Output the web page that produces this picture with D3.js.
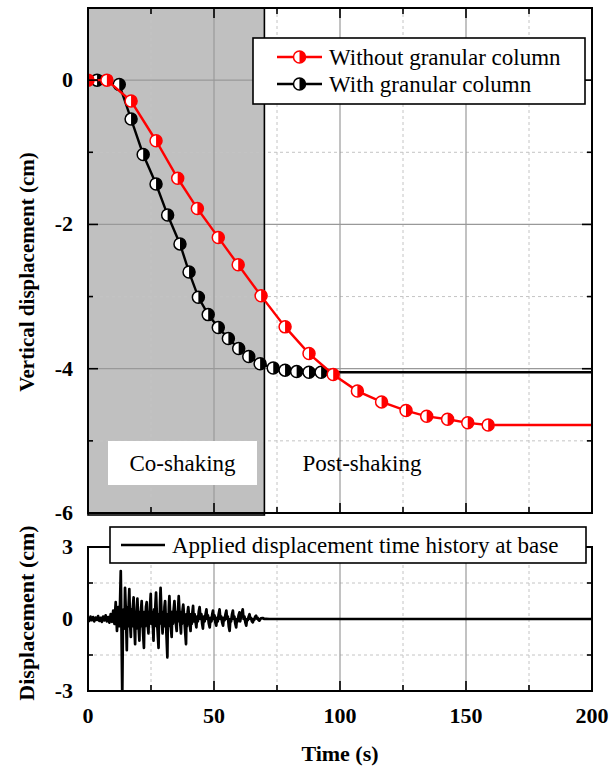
<!DOCTYPE html>
<html><head><meta charset="utf-8">
<script src="https://cdn.jsdelivr.net/npm/d3@7"></script>
<style>body{margin:0;background:#fff}svg{display:block}text{font-family:"Liberation Serif","Times New Roman",serif}</style>
</head><body>
<svg id="c" width="612" height="774"></svg>
<script>
// ---- data ----
const withoutColumn = [[0,0],[7.5,0],[17.1,-0.29],[27.0,-0.84],[35.6,-1.36],[43.4,-1.78],[51.7,-2.18],[59.6,-2.56],[68.7,-2.99],[78.2,-3.42],[87.7,-3.79],[97.3,-4.08],[106.9,-4.31],[116.5,-4.46],[126.2,-4.58],[134.4,-4.66],[142.7,-4.70],[150.7,-4.75],[158.8,-4.78]];
const withoutColumnEnd = [200,-4.78];
const withColumn = [[3.6,0],[12.4,-0.06],[17.1,-0.54],[21.9,-1.03],[27.0,-1.44],[31.6,-1.87],[36.5,-2.27],[40.1,-2.66],[43.8,-3.01],[47.7,-3.25],[51.7,-3.43],[55.7,-3.58],[59.8,-3.72],[63.8,-3.83],[68.3,-3.93],[73.5,-3.99],[78.2,-4.02],[82.8,-4.04],[87.7,-4.05],[92.5,-4.05]];
const withColumnEnd = [200,-4.05];
const baseMotion = [[0,0.05],[0.5,-0.08],[1,0.1],[1.5,-0.05],[2,0.08],[2.5,-0.1],[3,0.06],[3.5,-0.04],[4,0.12],[4.5,-0.08],[5,0.05],[5.5,-0.12],[6,0.1],[6.5,-0.06],[7,0.15],[7.5,-0.1],[8,0.08],[8.5,-0.15],[9,0.2],[9.5,-0.12],[10,0.35],[10.5,-0.2],[11,0.7],[11.5,-0.5],[12,0.5],[12.5,-0.3],
[13,2.0],[13.3,-0.5],[13.6,-3.2],[13.9,0.2],[14.2,0.4],[14.45,-0.4],[14.7,1.3],[15.05,0.2],[15.4,-1.3],[15.65,0.5],[15.9,-0.3],[16.15,0.6],[16.4,1.25],[16.7,-0.2],[17,-0.75],[17.25,0.4],[17.5,-0.3],[17.8,0.5],[18.1,0.9],[18.4,-0.3],[18.7,-1.05],[18.9,0.3],[19.1,-0.4],[19.35,0.4],[19.6,0.85],[20,-0.2],[20.4,-0.9],[20.6,0.3],[20.8,-0.3],[21.05,0.4],[21.3,0.75],[21.75,-0.4],[22.2,-1.2],[22.45,0.3],[22.7,-0.3],[23,0.5],[23.3,0.7],[23.65,-0.2],[24,-0.6],[24.2,0.3],[24.4,-0.2],[24.65,0.6],[24.9,1.05],[25.2,-0.2],[25.5,0.3],[26,-0.9],[26.25,0.4],[26.5,-0.3],[26.75,0.6],[27,1.1],[27.5,-0.3],[28,-1.2],[28.2,0.2],[28.4,-0.2],[28.6,0.7],[28.8,1.3],[29.2,0.1],[29.6,-0.6],[29.85,0.3],[30.1,-0.3],[30.35,0.5],[30.6,0.75],[31,-0.3],[31.5,-1.6],[31.7,0.2],[31.9,-0.3],[32.1,0.5],[32.3,0.95],[32.75,-0.2],[33.2,-0.75],[33.45,0.3],[33.7,-0.2],[34,0.4],[34.3,0.75],[34.75,-0.1],[35.2,-0.5],[35.4,0.3],[35.6,-0.1],[35.8,0.5],[36,0.95],[36.45,0.0],[36.9,-0.6],[37.1,0.3],[37.3,-0.2],[37.55,0.4],[37.8,0.6],[38.35,-0.2],[38.9,-1.05],[39.1,0.2],[39.3,-0.3],[39.55,0.3],[39.8,0.5],[40.25,-0.1],[40.7,-0.5],[40.95,0.2],[41.2,-0.2],[41.45,0.3],[41.7,0.55],[42,-0.1],[42.3,0.2],[42.65,-0.1],[43,-0.35],[43.3,0.1],[43.6,-0.1],[43.95,0.3],[44.3,0.5],[44.65,0.0],[45,0.2],[45.3,-0.2],[45.6,-0.4],[45.95,0.1],[46.3,-0.1],[46.65,0.2],[47,0.4],[47.3,0.0],[47.6,0.15],[47.95,-0.2],[48.3,-0.35],[48.65,0.05],[49,-0.1],[49.3,0.2],[49.6,0.35],[49.9,0.0],[50.2,0.15],[50.55,-0.15],[50.9,-0.28],[51.2,0.05],[51.5,-0.1],[51.85,0.2],[52.2,0.4],[52.55,0.0],[52.9,0.1],[53.25,-0.15],[53.6,-0.28],[53.9,0.05],[54.2,-0.05],[54.55,0.2],[54.9,0.35],[55.2,0.0],[55.5,0.1],[55.85,-0.3],[56.2,-0.5],[56.5,0.0],[56.8,-0.1],[57.15,0.2],[57.5,0.35],[57.8,0.0],[58.1,0.1],[58.45,-0.2],[58.8,-0.35],[59.1,0.0],[59.4,-0.1],[59.75,0.15],[60.1,0.28],[60.4,-0.1],[60.7,0.1],[61.05,0.25],[61.4,0.4],[61.75,0.0],[62.1,0.1],[62.45,-0.15],[62.8,-0.28],[63.1,0.0],[63.4,-0.05],[63.75,0.1],[64.1,0.2],[64.4,0.0],[64.7,0.05],[65.05,-0.1],[65.4,-0.14],[65.7,0.0],[66,-0.03],[66.35,0.1],[66.7,0.14],[67,0.02],[67.3,0.05],[67.65,-0.04],[68,-0.07],[68.6,0.03],[69.3,0.04],[70,0.0],[70.6,0.01],[72,0],[200,0]];
const shakingEnd = 70;
const xTicksMajor = [0,50,100,150,200];
const xTicksMinor = [25,75,125,175];
const yTopMajor = [0,-2,-4,-6];
const yTopMinor = [-1,-3,-5];
const yBotMajor = [3,0,-3];
const yBotMinor = [1.5,-1.5];
const seriesNames = ["Without granular column","With granular column"];
const seriesColors = ["#ff0000","#000000"];
const baseName = "Applied displacement time history at base";
const phaseLabels = ["Co-shaking","Post-shaking"];

// ---- layout ----
const L=88, R=592, T1=8, B1=513, T2=547, B2=691;
const svg = d3.select("#c");
const x = d3.scaleLinear().domain([0,200]).range([L,R]);
const yT = d3.scaleLinear().domain([-6,1]).range([B1,T1]);
const yB = d3.scaleLinear().domain([-3,3]).range([B2,T2]);

// top panel shading
svg.append("rect").attr("x",x(0)).attr("y",T1).attr("width",x(shakingEnd)-x(0)).attr("height",B1-T1)
  .attr("fill","#c0c0c0");

function grid(g, yS, yMaj, yMin, top, bot){
  xTicksMinor.forEach(v=>g.append("line").attr("x1",x(v)).attr("x2",x(v)).attr("y1",top).attr("y2",bot)
    .attr("stroke","#c4c4c4").attr("stroke-dasharray","3,3").attr("stroke-width",1));
  yMin.forEach(v=>g.append("line").attr("x1",L).attr("x2",R).attr("y1",yS(v)).attr("y2",yS(v))
    .attr("stroke","#c4c4c4").attr("stroke-dasharray","3,3").attr("stroke-width",1));
  xTicksMajor.slice(1,-1).forEach(v=>g.append("line").attr("x1",x(v)).attr("x2",x(v)).attr("y1",top).attr("y2",bot)
    .attr("stroke","#999").attr("stroke-width",1.2));
  yMaj.forEach(v=>{ if(yS(v)>top+1 && yS(v)<bot-1) g.append("line").attr("x1",L).attr("x2",R).attr("y1",yS(v)).attr("y2",yS(v))
    .attr("stroke","#999").attr("stroke-width",1.2);});
}
grid(svg.append("g"), yT, yTopMajor, yTopMinor, T1, B1);
grid(svg.append("g"), yB, [0], yBotMinor, T2, B2);

// shading border
svg.append("rect").attr("x",x(0)).attr("y",T1).attr("width",x(shakingEnd)-x(0)).attr("height",B1-T1+2)
  .attr("fill","none").attr("stroke","#000").attr("stroke-width",1.6);

// phase labels
svg.append("rect").attr("x",108).attr("y",441).attr("width",149).attr("height",44).attr("fill","#fff");
svg.append("text").attr("x",(108+257)/2).attr("y",471).attr("text-anchor","middle").attr("font-size",23).text(phaseLabels[0]);
svg.append("text").attr("x",362).attr("y",471).attr("text-anchor","middle").attr("font-size",23).text(phaseLabels[1]);

// frames and ticks
function frame(yS, top, bot, yMaj, yMin){
  svg.append("rect").attr("x",L).attr("y",top).attr("width",R-L).attr("height",bot-top)
    .attr("fill","none").attr("stroke","#000").attr("stroke-width",2);
  const g = svg.append("g").attr("stroke","#000").attr("stroke-width",1.6);
  xTicksMajor.forEach(v=>{g.append("line").attr("x1",x(v)).attr("x2",x(v)).attr("y1",bot).attr("y2",bot-10);
    g.append("line").attr("x1",x(v)).attr("x2",x(v)).attr("y1",top).attr("y2",top+10);});
  xTicksMinor.forEach(v=>{g.append("line").attr("x1",x(v)).attr("x2",x(v)).attr("y1",bot).attr("y2",bot-6);
    g.append("line").attr("x1",x(v)).attr("x2",x(v)).attr("y1",top).attr("y2",top+6);});
  yMaj.forEach(v=>{g.append("line").attr("x1",L).attr("x2",L+10).attr("y1",yS(v)).attr("y2",yS(v));
    g.append("line").attr("x1",R).attr("x2",R-10).attr("y1",yS(v)).attr("y2",yS(v));});
  yMin.forEach(v=>{g.append("line").attr("x1",L).attr("x2",L+5).attr("y1",yS(v)).attr("y2",yS(v));
    g.append("line").attr("x1",R).attr("x2",R-5).attr("y1",yS(v)).attr("y2",yS(v));});
  yMaj.forEach(v=>svg.append("text").attr("x",73).attr("y",yS(v)+7).attr("text-anchor","end")
    .attr("font-size",22).attr("font-weight","bold").text(String(v)));
}

// series
const line = d3.line().x(d=>x(d[0]));
svg.append("clipPath").attr("id","ct").append("rect").attr("x",L).attr("y",T1).attr("width",R-L).attr("height",B1-T1);
const sg = svg.append("g").attr("clip-path","url(#ct)");
function marker(g, cx, cy, color){
  const r=6;
  g.append("circle").attr("cx",cx).attr("cy",cy).attr("r",r).attr("fill","#fff");
  g.append("path").attr("d",`M${cx},${cy-r} A${r},${r} 0 0 1 ${cx},${cy+r} Z`).attr("fill",color);
  g.append("circle").attr("cx",cx).attr("cy",cy).attr("r",r).attr("fill","none").attr("stroke",color).attr("stroke-width",1.5);
}
[[withColumn,withColumnEnd,seriesColors[1]],[withoutColumn,withoutColumnEnd,seriesColors[0]]].forEach(([data,end,col])=>{
  sg.append("path").datum(data.concat([end])).attr("d",line.y(d=>yT(d[1]))).attr("fill","none")
    .attr("stroke",col).attr("stroke-width",2.4);
  data.forEach(d=>marker(sg, x(d[0]), yT(d[1]), col));
});

frame(yT, T1, B1, yTopMajor, yTopMinor);

// legend top
svg.append("rect").attr("x",253).attr("y",38).attr("width",332).attr("height",66).attr("fill","#fff")
  .attr("stroke","#000").attr("stroke-width",1.6);
[0,1].forEach(i=>{
  const yy = 57+i*27;
  svg.append("line").attr("x1",277).attr("x2",322).attr("y1",yy).attr("y2",yy).attr("stroke",seriesColors[i]).attr("stroke-width",2.4);
  marker(svg, 299.5, yy, seriesColors[i]);
  svg.append("text").attr("x",329).attr("y",yy+8).attr("font-size",23).text(seriesNames[i]);
});

// bottom panel
svg.append("clipPath").attr("id","cb").append("rect").attr("x",L).attr("y",T2).attr("width",R-L).attr("height",B2-T2);
svg.append("g").attr("clip-path","url(#cb)").append("path").datum(baseMotion)
  .attr("d",d3.line().x(d=>x(d[0])).y(d=>yB(d[1]))).attr("fill","none").attr("stroke","#000")
  .attr("stroke-width",2.7).attr("stroke-linejoin","round");
frame(yB, T2, B2, yBotMajor, yBotMinor);

svg.append("rect").attr("x",110).attr("y",527).attr("width",476).attr("height",36).attr("fill","#fff")
  .attr("stroke","#000").attr("stroke-width",1.6);
svg.append("line").attr("x1",121).attr("x2",165).attr("y1",545).attr("y2",545).attr("stroke","#000").attr("stroke-width",2.4);
svg.append("text").attr("x",172).attr("y",553).attr("font-size",23).text(baseName);

// x tick labels
xTicksMajor.forEach(v=>svg.append("text").attr("x",x(v)).attr("y",723).attr("text-anchor","middle")
  .attr("font-size",22).attr("font-weight","bold").text(v));
svg.append("text").attr("x",340).attr("y",761).attr("text-anchor","middle").attr("font-size",22).attr("font-weight","bold").text("Time (s)");

// y titles
svg.append("text").attr("transform","translate(34,272) rotate(-90)").attr("text-anchor","middle")
  .attr("font-size",21).attr("font-weight","bold").text("Vertical displacement (cm)");
svg.append("text").attr("transform","translate(34,613) rotate(-90)").attr("text-anchor","middle")
  .attr("font-size",22).attr("font-weight","bold").text("Displacement (cm)");
</script>
</body></html>
